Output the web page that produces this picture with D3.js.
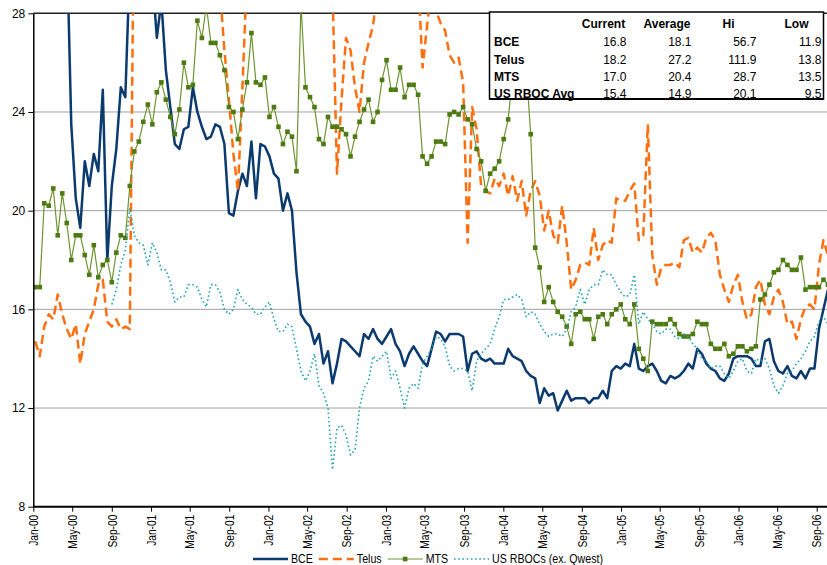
<!DOCTYPE html>
<html>
<head>
<meta charset="utf-8">
<script src="https://cdn.jsdelivr.net/npm/d3@7"></script>
<style>
    body { margin: 0; background: #fff; }
    svg text { fill: #000; }
    .narrow { font-family: "Liberation Sans Narrow", "Arial Narrow", "Liberation Sans", sans-serif; }
    .tbl { font-family: "Liberation Sans", Arial, sans-serif; font-size: 12px; }
</style>
</head>
<body>
<div id="chart"></div>
<script>
// bi-weekly P/E readings, first point 7-Jan-2000
var startDate = new Date(2000, 0, 7);
var stepDays = 14;

var seriesNames = ['BCE', 'Telus', 'MTS', 'US RBOCs (ex. Qwest)'];

var bceValues = [
    38, 45, 52, 56.7, 50, 44, 37, 31, 23.5, 20.5,
    19.3, 22.0, 21.0, 22.3, 21.6, 24.9, 18.0, 21.0, 22.5, 25.0,
    24.6, 30, 31, 29.5, 30.5, 29, 29.5, 27.0, 28.5, 25.7,
    24.2, 22.7, 22.5, 23.3, 23.4, 25.0, 24.0, 23.4, 22.9, 23.0,
    23.5, 23.4, 22.7, 19.9, 19.8, 20.8, 21.5, 21.0, 22.8, 20.5,
    22.7, 22.6, 22.2, 21.5, 21.3, 20.0, 20.7, 20.0, 17.5, 15.8,
    15.5, 15.3, 14.6, 15.0, 13.8, 14.3, 13.0, 13.8, 14.8, 14.7,
    14.5, 14.3, 14.1, 15.0, 14.8, 15.2, 14.8, 14.6, 14.9, 15.2,
    14.6, 14.3, 13.7, 14.2, 14.5, 14.2, 13.9, 13.7, 14.4, 15.1,
    15.0, 14.7, 15.0, 15.0, 15.0, 14.9, 13.5, 14.2, 14.3, 14.0,
    13.9, 14.0, 13.8, 13.8, 13.8, 14.4, 14.1, 14.0, 13.9, 13.5,
    13.3, 13.2, 12.2, 12.8, 12.5, 12.6, 11.9, 12.3, 12.7, 12.3,
    12.4, 12.4, 12.4, 12.2, 12.4, 12.4, 12.7, 12.4, 13.5, 13.7,
    13.6, 13.8, 13.7, 14.6, 13.6, 13.5, 13.7, 13.8, 13.5, 13.1,
    13.0, 13.3, 13.2, 13.3, 13.5, 13.8, 13.6, 14.4, 14.2, 13.8,
    13.6, 13.5, 13.2, 13.1, 13.4, 14.0, 14.1, 14.1, 14.1, 14.0,
    13.7, 13.7, 14.7, 14.8, 13.9, 13.5, 13.4, 13.7, 13.3, 13.2,
    13.5, 13.2, 13.6, 13.6, 15.2, 16.0, 16.8
];

var telusValues = [
    14.7, 14.1, 15.3, 15.8, 15.6, 16.6, 15.8, 15.2, 14.8, 15.4,
    13.8, 15.0, 15.5, 16.0, 17.0, 17.2, 15.5, 15.3, 15.6, 15.2,
    15.3, 15.2, 34, 40, 45, 52, 60, 70, 85, 100,
    111.9, 95, 80, 65, 55, 48, 42, 38, 34, 31,
    29.5, 29, 26.5, 24.5, 22.3, 20.8, 25.0, 29.5, 31, 33,
    35, 36, 34, 32, 33, 35, 34, 31, 30, 32,
    34, 33, 31, 30, 29.5, 29, 29, 21.5, 24.5, 27.0,
    26.5, 25.0, 24.0, 26.0, 26.8, 27.5, 29, 30, 31, 32,
    31, 30, 29.5, 28.3, 29, 29.5, 25.8, 27.5, 29, 28.1,
    27.6, 27.3, 26.3, 26.0, 26.2, 25.2, 18.7, 24.2, 23.3, 21.0,
    20.8, 20.7, 21.3, 21.0, 21.5, 20.6, 21.4, 20.4, 21.2, 19.8,
    20.8, 21.2, 20.6, 19.2, 20.0, 19.0, 18.7, 20.2, 18.7, 16.8,
    17.2, 17.8, 17.9, 17.8, 19.3, 18.0, 18.6, 18.8, 18.7, 20.5,
    20.4, 20.4, 20.8, 21.1, 18.8, 19.0, 23.5, 18.2, 17.0, 17.7,
    17.8, 17.8, 17.9, 17.7, 18.8, 18.9, 18.3, 18.5, 18.3, 18.9,
    19.1, 18.8, 17.4, 16.8, 16.3, 17.0, 17.4, 16.3, 15.6, 15.8,
    16.9, 17.2, 16.2, 15.8, 16.5, 16.8, 16.3, 15.4, 15.5, 14.8,
    15.6, 16.1, 16.2, 16.0, 17.8, 18.8, 18.2
];

var mtsValues = [
    16.9, 16.9, 20.3, 20.2, 20.9, 19.0, 20.7, 19.5, 18.0, 19.0,
    19.0, 18.2, 17.4, 18.6, 17.3, 17.8, 18.0, 17.1, 18.3, 19.0,
    18.9, 21.0, 22.4, 22.8, 23.6, 24.3, 23.5, 24.8, 25.2, 24.5,
    23.8, 23.1, 24.1, 26.0, 25.0, 25.1, 27.7, 27.0, 28.3, 26.8,
    26.8, 26.3, 25.7, 24.2, 24.0, 22.9, 24.1, 25.2, 27.2, 25.2,
    25.1, 25.4, 23.8, 24.2, 23.4, 22.7, 23.2, 23.0, 21.6, 28.4,
    25.0, 24.6, 24.2, 22.9, 22.7, 23.8, 23.4, 23.4, 23.3, 23.1,
    22.2, 23.0, 23.6, 24.1, 24.5, 23.6, 24.0, 25.3, 26.1, 24.9,
    24.9, 25.8, 24.6, 25.1, 25.1, 24.7, 22.2, 21.9, 22.2, 22.8,
    22.8, 22.7, 23.9, 24.0, 23.9, 24.2, 23.7, 23.5, 22.5, 22.0,
    20.8, 21.5, 21.7, 22.0, 22.9, 23.7, 25.5, 26.8, 27.2, 25.8,
    23.1, 18.5, 17.7, 16.3, 16.9, 16.3, 15.9, 15.7, 15.3, 14.6,
    15.8, 15.9, 15.6, 15.6, 14.8, 15.7, 15.8, 15.4, 15.8, 16.0,
    16.2, 15.6, 15.4, 16.2, 14.4, 14.0, 13.5, 15.5, 15.4, 15.4,
    15.4, 15.6, 15.4, 15.0, 14.9, 14.9, 15.0, 15.5, 15.4, 15.4,
    14.6, 14.4, 14.4, 14.6, 14.1, 14.2, 14.5, 14.5, 14.3, 14.4,
    14.5, 16.4, 16.6, 17.0, 17.5, 17.6, 18.0, 17.8, 17.6, 17.6,
    18.1, 16.8, 16.9, 16.9, 16.9, 17.2, 17.0
];

// US RBOC average only starts in Aug-2000
var rbocValues = [
    null, null, null, null, null, null, null, null, null, null,
    null, null, null, null, null, null, null, 16.2, 16.8, 17.8,
    18.4, 20.1, 19.0, 18.7, 18.6, 17.8, 18.7, 18.3, 17.6, 17.6,
    17.1, 16.3, 16.5, 16.5, 17.0, 17.0, 16.9, 16.4, 16.1, 17.0,
    17.0, 16.7, 16.0, 15.8, 16.0, 16.8, 16.4, 16.2, 16.1, 15.8,
    15.8, 16.1, 16.3, 15.6, 15.1, 15.1, 15.4, 15.3, 14.4, 13.5,
    13.1, 13.5, 14.2, 12.9, 12.6, 12.0, 9.5, 11.2, 11.3, 10.9,
    10.1, 10.3, 12.0, 12.8, 13.1, 14.1, 13.9, 14.1, 14.3, 13.2,
    13.5, 12.8, 12.0, 12.8, 13.0, 12.8, 13.8, 14.1, 14.4, 14.9,
    14.8, 14.5, 13.7, 13.5, 13.6, 13.6, 13.5, 12.7, 13.9, 14.2,
    14.4, 14.6, 15.2, 15.7, 16.4, 16.4, 16.5, 16.6, 16.4, 15.7,
    15.9, 15.8, 15.4, 15.1, 14.9, 15.0, 15.0, 14.9, 15.2, 15.9,
    16.1, 16.8, 16.2, 16.8, 17.0, 17.0, 17.6, 17.4, 17.4, 17.0,
    16.7, 16.5, 16.6, 17.4, 15.4, 15.9, 15.6, 15.4, 15.1, 15.0,
    15.2, 15.2, 14.9, 14.8, 15.0, 14.9, 14.6, 14.4, 14.0, 13.9,
    13.6, 13.7, 13.7, 13.4, 13.2, 13.5, 13.9, 14.0, 13.5, 13.4,
    14.0, 13.9, 14.0, 13.6, 12.9, 12.6, 12.9, 13.4, 13.5, 13.8,
    14.0, 14.3, 14.7, 14.9, 15.5, 15.7, 15.4
];

var yTicks = [8, 12, 16, 20, 24, 28];

var tableHeaders = ['Current', 'Average', 'Hi', 'Low'];
var tableRows = ['BCE', 'Telus', 'MTS', 'US RBOC Avg'];
var currentVals = [16.8, 18.2, 17.0, 15.4];
var averageVals = [18.1, 27.2, 20.4, 14.9];
var hiVals = [56.7, 111.9, 28.7, 20.1];
var lowVals = [11.9, 13.8, 13.5, 9.5];

var width = 827, height = 565;
var plotLeft = 33.3, plotRight = 830, plotTop = 13.3, plotBottom = 506.7;
var squeeze = 0.85; // imitate a narrow face

var svg = d3.select('#chart')
    .append('svg')
    .attr('width', width)
    .attr('height', height);

var x = d3.scaleTime()
    .domain([new Date(2000, 0, 1), new Date(2006, 8, 1)])
    .range([plotLeft, 816.7]);

var y = d3.scaleLinear()
    .domain([8, 28])
    .range([plotBottom, plotTop]);

var dates = bceValues.map(function (d, i) {
    return d3.timeDay.offset(startDate, i * stepDays);
});

// gridlines
svg.append('g')
    .selectAll('line')
    .data(yTicks.filter(function (d) { return d > 8; }))
    .enter().append('line')
    .attr('x1', plotLeft)
    .attr('x2', width)
    .attr('y1', function (d) { return y(d); })
    .attr('y2', function (d) { return y(d); })
    .attr('stroke', function (d) { return d === 28 ? '#222' : '#a0a0a0'; })
    .attr('stroke-width', function (d) { return d === 28 ? 1.4 : 1; });

svg.append('clipPath')
    .attr('id', 'plotClip')
    .append('rect')
    .attr('x', plotLeft)
    .attr('y', plotTop)
    .attr('width', plotRight - plotLeft)
    .attr('height', plotBottom - plotTop);

var plot = svg.append('g').attr('clip-path', 'url(#plotClip)');

var series = [
    { name: seriesNames[0], values: bceValues, color: '#0b3a6e', width: 2.5, dash: null },
    { name: seriesNames[1], values: telusValues, color: '#ff6f0f', width: 2.5, dash: '9,5' },
    { name: seriesNames[2], values: mtsValues, color: '#6e9431', width: 1.2, dash: null, marker: '#4e7a12' },
    { name: seriesNames[3], values: rbocValues, color: '#22a3b3', width: 1.6, dash: '1.6,2.6' }
];

var line = d3.line()
    .defined(function (d) { return d.v !== null; })
    .x(function (d) { return x(d.date); })
    .y(function (d) { return y(d.v); });

series.forEach(function (s) {
    var pts = s.values.map(function (v, i) { return { date: dates[i], v: v }; });
    plot.append('path')
        .datum(pts)
        .attr('d', line)
        .attr('fill', 'none')
        .attr('stroke', s.color)
        .attr('stroke-width', s.width)
        .attr('stroke-dasharray', s.dash)
        .attr('stroke-linejoin', 'round');

    if (s.marker) {
        plot.append('g')
            .selectAll('rect')
            .data(pts.filter(function (d) { return d.v !== null; }))
            .enter().append('rect')
            .attr('x', function (d) { return x(d.date) - 2.3; })
            .attr('y', function (d) { return y(d.v) - 2.3; })
            .attr('width', 4.6)
            .attr('height', 4.6)
            .attr('fill', s.marker);
    }
});

// y axis
var yAxis = svg.append('g')
    .attr('class', 'narrow')
    .attr('transform', 'translate(' + plotLeft + ',0)')
    .call(d3.axisLeft(y).tickValues(yTicks).tickSize(5).tickSizeOuter(0).tickPadding(3));
yAxis.select('.domain').attr('stroke', '#000').attr('stroke-width', 1.5);
yAxis.selectAll('text').style('font-size', '12px').attr('fill', '#000');

// x axis
var xAxis = svg.append('g')
    .attr('class', 'narrow')
    .attr('transform', 'translate(0,' + plotBottom + ')')
    .call(d3.axisBottom(x)
        .ticks(d3.timeMonth.every(4))
        .tickFormat(d3.timeFormat('%b-%y'))
        .tickSize(5)
        .tickSizeOuter(0));
xAxis.select('.domain').attr('d', 'M' + plotLeft + ',0H' + width)
    .attr('stroke', '#000').attr('stroke-width', 2);
xAxis.selectAll('text')
    .style('font-size', '12px')
    .attr('fill', '#000')
    .attr('transform', 'rotate(-90) scale(' + squeeze + ',1)')
    .attr('text-anchor', 'end')
    .attr('x', -8 / squeeze)
    .attr('y', 0)
    .attr('dy', '0.35em');

// stats table
var tbl = svg.append('g').attr('class', 'tbl');
tbl.append('rect')
    .attr('x', 489.5)
    .attr('y', 12)
    .attr('width', 334)
    .attr('height', 87)
    .attr('fill', '#fff')
    .attr('stroke', '#000')
    .attr('stroke-width', 1.5);
tbl.append('line')
    .attr('x1', 489.5).attr('x2', 823.5)
    .attr('y1', 99).attr('y2', 99)
    .attr('stroke', '#000').attr('stroke-width', 2);

var headerX = [603.5, 667, 728.5, 796.5];
var colRight = [626.5, 691.5, 756.5, 821.5];
var rowY = [28, 46, 63.5, 80.5, 97.5];
var colVals = [currentVals, averageVals, hiVals, lowVals];
var fmt = d3.format('.1f');

tbl.selectAll('.hdr')
    .data(tableHeaders)
    .enter().append('text')
    .attr('class', 'hdr')
    .attr('x', function (d, i) { return headerX[i]; })
    .attr('y', rowY[0])
    .attr('text-anchor', 'middle')
    .style('font-weight', 'bold')
    .text(function (d) { return d; });

tableRows.forEach(function (r, ri) {
    tbl.append('text')
        .attr('x', 494)
        .attr('y', rowY[ri + 1])
        .style('font-weight', 'bold')
        .text(r);
    colVals.forEach(function (vals, ci) {
        tbl.append('text')
            .attr('x', colRight[ci])
            .attr('y', rowY[ri + 1])
            .attr('text-anchor', 'end')
            .text(fmt(vals[ri]));
    });
});

// legend
var legend = svg.append('g').attr('class', 'narrow');
var lx = 253, ly = 559;
series.forEach(function (s) {
    var sampleLen = 35;
    legend.append('line')
        .attr('x1', lx).attr('x2', lx + sampleLen)
        .attr('y1', ly).attr('y2', ly)
        .attr('stroke', s.color)
        .attr('stroke-width', s.width)
        .attr('stroke-dasharray', s.dash);
    if (s.marker) {
        legend.append('rect')
            .attr('x', lx + sampleLen / 2 - 2.3)
            .attr('y', ly - 2.3)
            .attr('width', 4.6).attr('height', 4.6)
            .attr('fill', s.marker);
    }
    var t = legend.append('text')
        .attr('transform', 'translate(' + (lx + sampleLen + 3) + ',' + ly + ') scale(' + squeeze + ',1)')
        .attr('dy', '0.35em')
        .style('font-size', '12.5px')
        .text(s.name);
    lx += sampleLen + 3 + t.node().getComputedTextLength() * squeeze + 6;
});
</script>
</body>
</html>
